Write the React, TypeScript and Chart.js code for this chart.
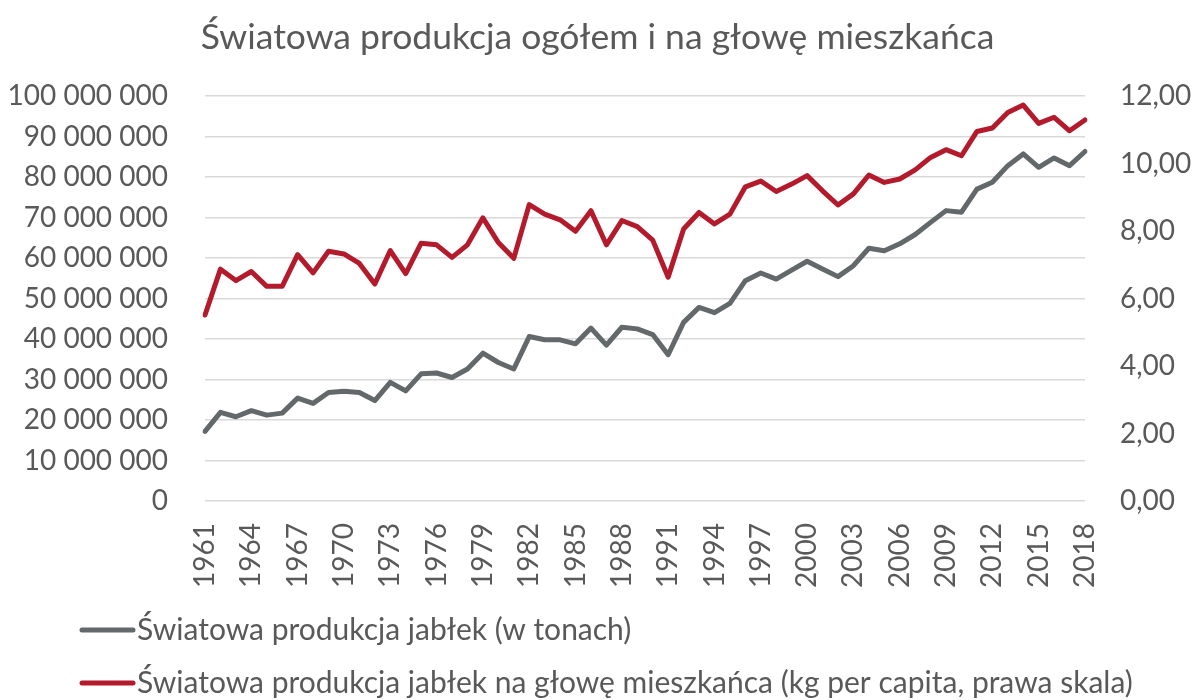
import React, { useEffect, useRef } from "react";
import { Chart, registerables } from "chart.js";

Chart.register(...registerables);

const years: string[] = [
  "1961","1962","1963","1964","1965","1966","1967","1968","1969","1970",
  "1971","1972","1973","1974","1975","1976","1977","1978","1979","1980",
  "1981","1982","1983","1984","1985","1986","1987","1988","1989","1990",
  "1991","1992","1993","1994","1995","1996","1997","1998","1999","2000",
  "2001","2002","2003","2004","2005","2006","2007","2008","2009","2010",
  "2011","2012","2013","2014","2015","2016","2017","2018",
];

const productionTonnes: number[] = [
  17200000, 21900000, 20800000, 22300000, 21200000, 21700000, 25400000, 24100000, 26800000, 27100000,
  26800000, 24800000, 29300000, 27200000, 31400000, 31600000, 30500000, 32600000, 36500000, 34200000,
  32600000, 40600000, 39800000, 39800000, 38800000, 42700000, 38500000, 42900000, 42500000, 41100000,
  36100000, 44100000, 47800000, 46500000, 48800000, 54400000, 56300000, 54800000, 57000000, 59200000,
  57300000, 55400000, 58100000, 62400000, 61800000, 63500000, 65800000, 68800000, 71700000, 71300000,
  77000000, 78700000, 82800000, 85700000, 82400000, 84700000, 82800000, 86300000,
];

const perCapitaKg: number[] = [
  5.51, 6.87, 6.53, 6.80, 6.36, 6.36, 7.30, 6.76, 7.40, 7.32,
  7.04, 6.43, 7.42, 6.74, 7.64, 7.59, 7.22, 7.59, 8.39, 7.66,
  7.19, 8.78, 8.50, 8.33, 7.99, 8.60, 7.59, 8.31, 8.13, 7.73,
  6.63, 8.06, 8.55, 8.21, 8.50, 9.31, 9.48, 9.17, 9.39, 9.64,
  9.19, 8.77, 9.10, 9.66, 9.44, 9.54, 9.81, 10.18, 10.41, 10.23,
  10.95, 11.05, 11.51, 11.73, 11.19, 11.37, 10.97, 11.29,
];

const titleText = "Światowa produkcja ogółem i na głowę mieszkańca";
const seriesLabels: string[] = [
  "Światowa produkcja jabłek (w tonach)",
  "Światowa produkcja jabłek na głowę mieszkańca (kg per capita, prawa skala)",
];

const GRAY = "#63686B";
const RED = "#B31B2D";
const TEXT = "#595959";
const GRID = "#D9D9D9";
const FONT = "Lato, 'Open Sans', sans-serif";

function formatSpaces(v: number): string {
  return String(Math.round(v)).replace(/\B(?=(\d{3})+(?!\d))/g, " ");
}

const legendPlugin = {
  id: "customLegend",
  afterDraw(chart: any) {
    const ctx = chart.ctx;
    const rows = [630, 683];
    ctx.save();
    chart.data.datasets.forEach((ds: any, i: number) => {
      const y = rows[i];
      ctx.strokeStyle = ds.borderColor;
      ctx.lineWidth = 5;
      ctx.lineCap = "round";
      ctx.beginPath();
      ctx.moveTo(82, y);
      ctx.lineTo(133, y);
      ctx.stroke();
      ctx.fillStyle = TEXT;
      ctx.font = `30px ${FONT}`;
      ctx.textAlign = "left";
      ctx.textBaseline = "middle";
      ctx.fillText(ds.label, 137, y);
    });
    ctx.restore();
  },
};

export default function App() {
  const canvasRef = useRef<HTMLCanvasElement | null>(null);

  useEffect(() => {
    if (!canvasRef.current) return;
    const chart = new Chart(canvasRef.current, {
      type: "line",
      data: {
        labels: years,
        datasets: [
          {
            label: seriesLabels[0],
            data: productionTonnes,
            borderColor: GRAY,
            backgroundColor: GRAY,
            borderWidth: 5,
            pointRadius: 0,
            tension: 0,
            borderJoinStyle: "round",
            borderCapStyle: "round",
            yAxisID: "y",
          },
          {
            label: seriesLabels[1],
            data: perCapitaKg,
            borderColor: RED,
            backgroundColor: RED,
            borderWidth: 5,
            pointRadius: 0,
            tension: 0,
            borderJoinStyle: "round",
            borderCapStyle: "round",
            yAxisID: "y1",
          },
        ],
      },
      options: {
        animation: false,
        responsive: false,
        maintainAspectRatio: false,
        layout: { padding: { top: 0, left: 0, right: 0, bottom: 89 } },
        plugins: {
          legend: { display: false },
          tooltip: { enabled: false },
          title: {
            display: true,
            text: titleText,
            color: TEXT,
            font: { family: FONT, size: 35.5, weight: "normal", lineHeight: 1.2 },
            padding: { top: 16, bottom: 37.4 },
          },
        },
        scales: {
          x: {
            type: "category",
            offset: false,
            grid: { display: false },
            border: { display: false },
            ticks: {
              autoSkip: false,
              minRotation: 90,
              maxRotation: 90,
              padding: 14,
              color: TEXT,
              font: { family: FONT, size: 28 },
              callback: (_v: any, index: number) => (index % 3 === 0 ? years[index] : ""),
            },
            afterFit: (scale: any) => {
              scale.height = 110;
            },
          },
          y: {
            type: "linear",
            position: "left",
            min: 0,
            max: 100000000,
            grid: { color: GRID, lineWidth: 1.5, drawTicks: false },
            border: { display: false },
            ticks: {
              stepSize: 10000000,
              padding: 37,
              color: TEXT,
              font: { family: FONT, size: 28 },
              callback: (v: any) => formatSpaces(Number(v)),
            },
            afterFit: (scale: any) => {
              scale.width = 205;
            },
          },
          y1: {
            type: "linear",
            position: "right",
            min: 0,
            max: 12,
            grid: { display: false, drawTicks: false },
            border: { display: false },
            ticks: {
              stepSize: 2,
              padding: 35,
              color: TEXT,
              font: { family: FONT, size: 28 },
              callback: (v: any) => Number(v).toFixed(2).replace(".", ","),
            },
            afterFit: (scale: any) => {
              scale.width = 110;
            },
          },
        },
      },
      plugins: [legendPlugin],
    } as any);
    return () => chart.destroy();
  }, []);

  return (
    <div style={{ position: "fixed", left: 0, top: 0, width: 1195, height: 700, background: "#fff" }}>
      <canvas ref={canvasRef} width={1195} height={700} style={{ width: 1195, height: 700, display: "block" }} />
    </div>
  );
}
